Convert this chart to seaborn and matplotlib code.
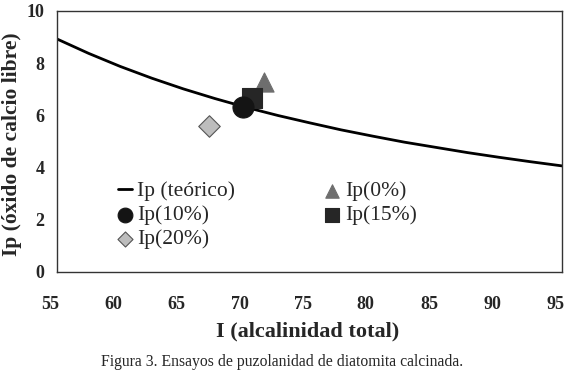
import matplotlib
matplotlib.use("Agg")
import matplotlib.pyplot as plt
import matplotlib.transforms as mtransforms
import seaborn as sns
import pandas as pd

# Theoretical curve
curve_x = [55, 57.5, 60, 62.5, 65, 67.5, 70, 72.5, 75, 77.5, 80, 82.5, 85, 87.5, 90, 92.5, 95]
curve_y = [8.92, 8.37, 7.87, 7.42, 7.01, 6.64, 6.30, 5.99, 5.71, 5.44, 5.20, 4.97, 4.77, 4.57, 4.39, 4.22, 4.06]

# Measured points
labels = ["Ip(0%)", "Ip(10%)", "Ip(15%)", "Ip(20%)"]
point_x = [71.4, 69.7, 70.4, 67.0]
point_y = [7.27, 6.33, 6.65, 5.59]

x_ticks = [55, 60, 65, 70, 75, 80, 85, 90, 95]
y_ticks = [0, 2, 4, 6, 8, 10]

sns.set_theme(style="white")
plt.rcParams["font.family"] = ["Liberation Serif", "DejaVu Serif"]

fig = plt.figure(figsize=(5.65, 3.73), dpi=100)
ax = fig.add_axes([0.101, 0.271, 0.894, 0.700])

curve = pd.DataFrame({"x": curve_x, "y": curve_y})
sns.lineplot(data=curve, x="x", y="y", ax=ax, color="black", linewidth=2.0,
             label="Ip (teórico)", zorder=2)

styles = {
    "Ip(0%)": dict(marker="^", color="#6e6e6e", edgecolor="#6e6e6e", s=190),
    "Ip(10%)": dict(marker="o", color="#141414", edgecolor="#141414", s=230),
    "Ip(15%)": dict(marker="s", color="#262626", edgecolor="#262626", s=220),
    "Ip(20%)": dict(marker="D", color="#bdbdbd", edgecolor="#555555", s=120),
}
order = ["Ip(0%)", "Ip(15%)", "Ip(10%)", "Ip(20%)"]
for lab in order:
    i = labels.index(lab)
    st = styles[lab]
    sns.scatterplot(x=[point_x[i]], y=[point_y[i]], ax=ax, marker=st["marker"],
                    color=st["color"], edgecolor=st["edgecolor"], linewidth=0.8,
                    s=st["s"], label=lab, zorder=3)

ax.set_xlim(55, 95)
ax.set_ylim(0, 10)
ax.set_xticks(x_ticks)
ax.set_yticks(y_ticks)
ax.tick_params(axis="both", direction="in", length=4, color="#aaaaaa", width=0.8,
               labelsize=13)
ax.tick_params(axis="x", pad=17)
ax.tick_params(axis="y", pad=9)
for t in ax.get_xticklabels() + ax.get_yticklabels():
    t.set_fontweight("bold")
shift = mtransforms.ScaledTranslation(-0.07, 0, fig.dpi_scale_trans)
for t in ax.get_xticklabels():
    t.set_transform(t.get_transform() + shift)

for sp in ax.spines.values():
    sp.set_visible(True)
    sp.set_color("#333333")
    sp.set_linewidth(1.0)

ax.set_xlabel("I (alcalinidad total)", fontsize=16, fontweight="bold")
ax.set_ylabel("Ip (óxido de calcio libre)", fontsize=15.5, fontweight="bold")
ax.xaxis.set_label_coords(0.497, -0.19)
ax.yaxis.set_label_coords(-0.069, 0.49)

handles, labs = ax.get_legend_handles_labels()
hmap = dict(zip(labs, handles))
leg_order = ["Ip (teórico)", "Ip(10%)", "Ip(20%)", "Ip(0%)", "Ip(15%)"]
ax.legend([hmap[l] for l in leg_order], leg_order, ncol=2, frameon=False,
          loc="upper left", bbox_to_anchor=(0.103, 0.38), fontsize=15.5,
          handlelength=0.65, handletextpad=0.25, labelspacing=0.18,
          columnspacing=4.2, markerscale=0.7, borderaxespad=0)

fig.text(0.5, 0.03, "Figura 3. Ensayos de puzolanidad de diatomita calcinada.",
         ha="center", va="center", fontsize=11.3)

fig.savefig("out.png", dpi=100)
